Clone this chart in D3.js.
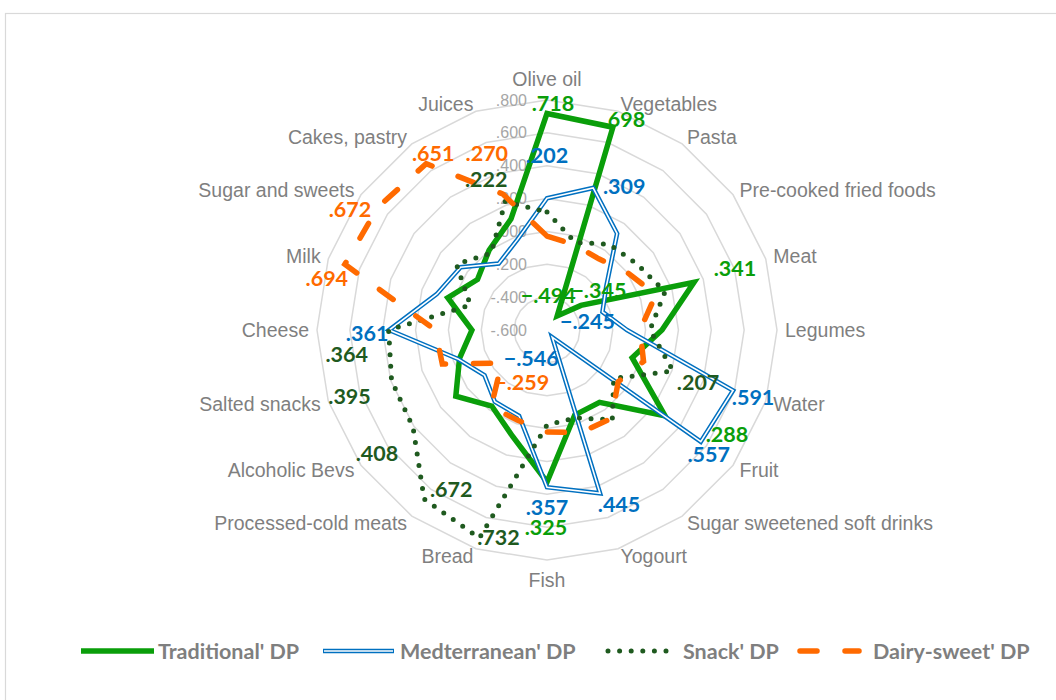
<!DOCTYPE html>
<html><head><meta charset="utf-8">
<script src="https://cdn.jsdelivr.net/npm/d3@7"></script>
<style>body{margin:0;background:#fff} svg{display:block}</style>
</head><body>
<svg id="chart" width="1056" height="700"></svg>
<script>
const categories = ["Olive oil","Vegetables","Pasta","Pre-cooked fried foods","Meat","Legumes","Water","Fruit","Sugar sweetened soft drinks","Yogourt","Fish","Bread","Processed-cold meats","Alcoholic Bevs","Salted snacks","Cheese","Milk","Sugar and sweets","Cakes, pastry","Juices"];
const traditional   = [0.718, 0.698, -0.494, -0.345, 0.341, 0.100, -0.055, 0.288, -0.056, -0.055, 0.325, 0.080, -0.028, 0.086, -0.040, -0.143, 0.035, -0.077, 0.000, 0.110];
const mediterranean = [0.202, 0.309, 0.126, -0.155, -0.245, -0.113, 0.591, 0.557, -0.546, 0.445, 0.357, -0.050, -0.060, -0.130, -0.030, 0.361, 0.106, 0.050, -0.100, -0.020];
const snack         = [0.118, -0.040, 0.045, 0.080, 0.155, 0.027, 0.207, -0.098, 0.076, -0.038, -0.022, 0.732, 0.672, 0.408, 0.395, 0.364, -0.110, 0.082, -0.022, 0.222];
const dairySweet    = [-0.028, -0.055, -0.064, 0.000, 0.097, -0.034, 0.018, -0.064, 0.066, 0.057, 0.021, -0.022, -0.022, -0.259, 0.070, 0.080, 0.694, 0.672, 0.651, 0.270];
const tickValues = [-0.6, -0.4, -0.2, 0, 0.2, 0.4, 0.6, 0.8];
const tickLabels = ["-.600", "-.400", "-.200", ".000", ".200", ".400", ".600", ".800"];
const seriesNames = ["Traditional' DP", "Medterranean' DP", "Snack' DP", "Dairy-sweet' DP"];
// indices of points that carry a data label
const tradLabelIdx = [0, 1, 2, 3, 4, 7, 10];
const medLabelIdx = [0, 1, 4, 6, 7, 8, 9, 10, 15];
const snackLabelIdx = [6, 11, 12, 13, 14, 15, 19];
const dairyLabelIdx = [13, 16, 17, 18, 19];

// ---- layout / style (not data) ----
const cx = 547, cy = 330, R = 230;
const labelOffsets = [
  {0:[6,-10],1:[11,-8],2:[-9,-21],3:[18,-15],4:[41,-14],7:[62,18],10:[-1,45]},
  {0:[0,-43],1:[31,-2],4:[-15,9],6:[20,7],7:[8,12],8:[-21,21],9:[19,11],10:[0,20],15:[-22,3]},
  {19:[-19,-23],6:[25,11],15:[-42,24],14:[-42,15],13:[-36,26],12:[27,-10],11:[19,-1]},
  {19:[-16,-41],18:[7,-11],17:[-28,2],16:[-18,14],13:[20,19]}
];
const colors = ["#0a9e0a", "#0070c0", "#1f5a1f", "#ff6a00"];

const svg = d3.select("#chart");
svg.append("rect").attr("x",5.5).attr("y",13.5).attr("width",1100).attr("height",800)
  .attr("fill","#fff").attr("stroke","#d9d9d9").attr("stroke-width",1.2);

const r = d3.scaleLinear().domain([-0.6, 0.8]).range([0, R]);
const n = categories.length;
const step = 2 * Math.PI / n;
const g = svg.append("g").attr("transform", `translate(${cx},${cy})`);

// grid rings
const ringLine = d3.lineRadial().angle((d,i)=>i*step).radius(d=>d).curve(d3.curveLinearClosed);
tickValues.filter(v => v > -0.6).forEach(v => {
  g.append("path").attr("d", ringLine(d3.range(n).map(()=>r(v))))
    .attr("fill","none").attr("stroke","#d9d9d9").attr("stroke-width",1.5);
});

// tick labels
g.selectAll("text.tick").data(tickValues).join("text")
  .attr("x", -20).attr("y", d => -r(d))
  .attr("text-anchor","end").attr("dominant-baseline","central")
  .attr("font-family","Liberation Sans, Arial, sans-serif").attr("font-size",16)
  .attr("fill","#a6a6a6").text((d,i)=>tickLabels[i]);

// category labels
categories.forEach((c,i) => {
  const a = i*step, rr = R + 8;
  const x = rr*Math.sin(a), y = -rr*Math.cos(a);
  const s = Math.sin(a);
  let anchor = "middle", dy = 0;
  if (s > 0.01) anchor = "start"; else if (s < -0.01) anchor = "end";
  else dy = Math.cos(a) > 0 ? -13 : 12;
  g.append("text").attr("x", x).attr("y", y + dy)
    .attr("text-anchor", anchor).attr("dominant-baseline","central")
    .attr("font-family","Liberation Sans, Arial, sans-serif").attr("font-size",19.5)
    .attr("fill","#7f7f7f").text(c);
});

const line = d3.lineRadial().angle((d,i)=>i*step).radius(d=>r(d)).curve(d3.curveLinearClosed);
const allSeries = [traditional, mediterranean, snack, dairySweet];

// Traditional
g.append("path").attr("d", line(traditional)).attr("fill","none")
  .attr("stroke", colors[0]).attr("stroke-width",5.5).attr("stroke-linejoin","miter");
// Mediterranean double line
g.append("path").attr("d", line(mediterranean)).attr("fill","none")
  .attr("stroke", colors[1]).attr("stroke-width",4.6).attr("stroke-linejoin","miter");
g.append("path").attr("d", line(mediterranean)).attr("fill","none")
  .attr("stroke", "#fff").attr("stroke-width",1.6).attr("stroke-linejoin","miter");
// Snack dotted
g.append("path").attr("d", line(snack)).attr("fill","none")
  .attr("stroke", colors[2]).attr("stroke-width",5).attr("stroke-linecap","round")
  .attr("stroke-dasharray","0 11.6");
// Dairy-sweet dashed
g.append("path").attr("d", line(dairySweet)).attr("fill","none")
  .attr("stroke", colors[3]).attr("stroke-width",5.5).attr("stroke-linecap","round")
  .attr("stroke-dasharray","17 28");

// data labels
const fmt = v => d3.format(".3f")(v).replace("0.", ".");
const labelIdx = [tradLabelIdx, medLabelIdx, snackLabelIdx, dairyLabelIdx];
allSeries.forEach((vals, si) => {
  labelIdx[si].forEach(i => {
    const a = i*step, rr = r(vals[i]);
    const off = labelOffsets[si][i] || [0,0];
    g.append("text").attr("x", rr*Math.sin(a) + off[0]).attr("y", -rr*Math.cos(a) + off[1])
      .attr("text-anchor","middle").attr("dominant-baseline","central")
      .attr("font-family","Lato, sans-serif").attr("font-weight","bold").attr("font-size",21.5)
      .attr("fill", colors[si]).text(fmt(vals[i]));
  });
});

// legend
const ly = 651;
const legendX = [[81,154,158],[323,394,400],[606,670,683],[797,862,873]];
const lg = svg.append("g");
legendX.forEach((p, si) => {
  const seg = lg.append("line").attr("x1",p[0]).attr("x2",p[1]).attr("y1",ly).attr("y2",ly);
  if (si === 0) seg.attr("stroke",colors[0]).attr("stroke-width",5.5);
  if (si === 1) {
    seg.attr("stroke",colors[1]).attr("stroke-width",4.6);
    lg.append("line").attr("x1",p[0]+1).attr("x2",p[1]-1).attr("y1",ly).attr("y2",ly)
      .attr("stroke","#fff").attr("stroke-width",1.6);
  }
  if (si === 2) seg.attr("x1",p[0]+2).attr("stroke",colors[2]).attr("stroke-width",5).attr("stroke-linecap","round").attr("stroke-dasharray","0 11.6");
  if (si === 3) seg.attr("x1",p[0]+3).attr("x2",p[1]-3).attr("stroke",colors[3]).attr("stroke-width",5.5).attr("stroke-linecap","round").attr("stroke-dasharray","17 28");
  lg.append("text").attr("x",p[2]).attr("y",ly).attr("dominant-baseline","central")
    .attr("font-family","Lato, sans-serif").attr("font-weight","bold").attr("font-size",21.5)
    .attr("fill","#7f7f7f").text(seriesNames[si]);
});
</script>
</body></html>
